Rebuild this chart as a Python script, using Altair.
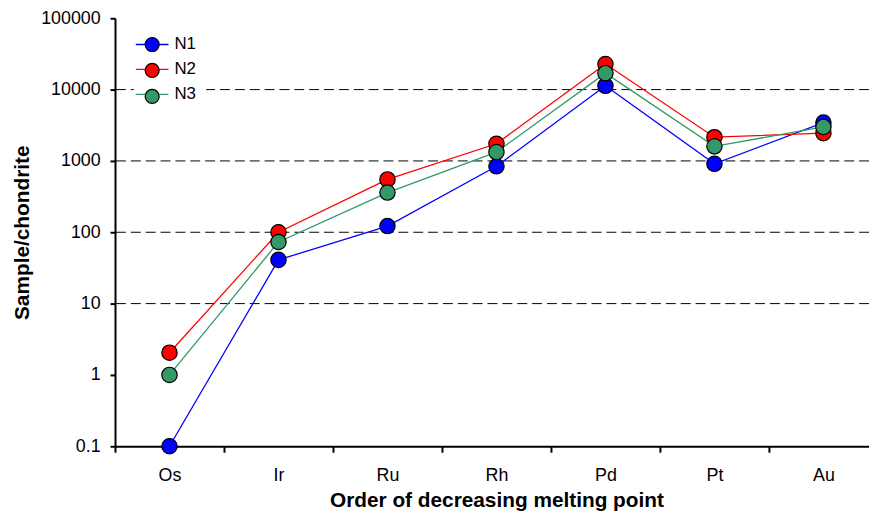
import altair as alt
import pandas as pd

elements = ["Os", "Ir", "Ru", "Rh", "Pd", "Pt", "Au"]
series_names = ["N1", "N2", "N3"]
n1 = [0.1, 41, 122, 840, 11300, 910, 3450]
n2 = [2.05, 100, 550, 1740, 22800, 2150, 2450]
n3 = [1.0, 73, 360, 1330, 17000, 1600, 3000]
colors = ["#0000FF", "#FF0000", "#339966"]
y_ticks = [0.1, 1, 10, 100, 1000, 10000, 100000]
grid_values = [10, 100, 1000, 10000]

# line legend keys carry a trailing space so Vega-Lite keeps the two legends apart
line_names = [s + " " for s in series_names]

rows = []
for name, lname, vals in zip(series_names, line_names, [n1, n2, n3]):
    for i, (el, v) in enumerate(zip(elements, vals)):
        rows.append({"element": el, "value": v, "series": name,
                     "series_line": lname, "order": i})
df = pd.DataFrame(rows)
grid_df = pd.DataFrame({"value": grid_values})

FONT = "Liberation Sans"
PLOT_W = 761
PLOT_H = 432
X_RANGE = 770

x_enc = alt.X(
    "element:N",
    sort=elements,
    scale=alt.Scale(range=[0, X_RANGE], paddingInner=0, paddingOuter=0),
    axis=alt.Axis(
        title="Order of decreasing melting point",
        titleFont=FONT, titleFontSize=21, titleFontWeight="bold", titleColor="black",
        titleX=385, titleY=61, titleAnchor="middle", titleAlign="center",
        titleBaseline="alphabetic",
        labelFont=FONT, labelFontSize=18, labelColor="black", labelPadding=15,
        labelAngle=0,
        domainColor="black", domainWidth=2,
        tickColor="black", tickWidth=2, tickSize=6, tickBand="extent",
        grid=False,
    ),
)
y_scale = alt.Scale(type="log", domain=[0.1, 100000], nice=False)
y_axis = alt.Axis(
    title="Sample/chondrite",
    titleFont=FONT, titleFontSize=21, titleFontWeight="bold", titleColor="black",
    titlePadding=8,
    values=y_ticks, format="~g",
    labelFont=FONT, labelFontSize=18, labelColor="black", labelPadding=10,
    domainColor="black", domainWidth=2,
    tickColor="black", tickWidth=2, tickSize=5,
    grid=False,
)
y_enc = alt.Y("value:Q", scale=y_scale, axis=y_axis)

LEG_PAD = 10
LEG_X = 29 - LEG_PAD
LEG_Y = 18 - LEG_PAD
ROW_PAD = 7.2
line_legend = alt.Legend(
    title=None, orient="none", legendX=LEG_X, legendY=LEG_Y, zindex=1,
    padding=LEG_PAD, fillColor="white",
    symbolType="M-2.33,0L2.33,0", symbolSize=200, symbolStrokeWidth=1.3,
    labelFont=FONT, labelFontSize=17, labelColor="black",
    rowPadding=ROW_PAD, labelOffset=14,
)
point_legend = alt.Legend(
    title=None, orient="none", legendX=LEG_X, legendY=LEG_Y, zindex=2,
    padding=LEG_PAD,
    symbolType="circle", symbolSize=200, symbolStrokeColor="black",
    symbolStrokeWidth=1.2,
    labelFont=FONT, labelFontSize=17, labelColor="black", labelExpr="''",
    rowPadding=ROW_PAD, labelOffset=14,
)

grid = alt.Chart(grid_df).mark_rule(
    color="black", strokeWidth=1, strokeDash=[10, 5]
).encode(y=y_enc)

lines = alt.Chart(df).mark_line(strokeWidth=1.3).encode(
    x=x_enc,
    y=y_enc,
    stroke=alt.Stroke("series_line:N",
                      scale=alt.Scale(domain=line_names, range=colors),
                      legend=line_legend),
    order="order:Q",
)

points = alt.Chart(df).mark_point(
    filled=True, size=240, stroke="black", strokeWidth=1.2, opacity=1
).encode(
    x=x_enc,
    y=y_enc,
    fill=alt.Fill("series:N",
                  scale=alt.Scale(domain=series_names, range=colors),
                  legend=point_legend),
)

chart = alt.layer(grid, lines, points).properties(
    width=PLOT_W, height=PLOT_H,
    autosize=alt.AutoSizeParams(type="none"),
    padding={"left": 108, "top": 8, "right": 0, "bottom": 65},
).configure(background="white").configure_view(stroke=None)

chart.save("out.html", embed_options={"renderer": "svg", "actions": False})
